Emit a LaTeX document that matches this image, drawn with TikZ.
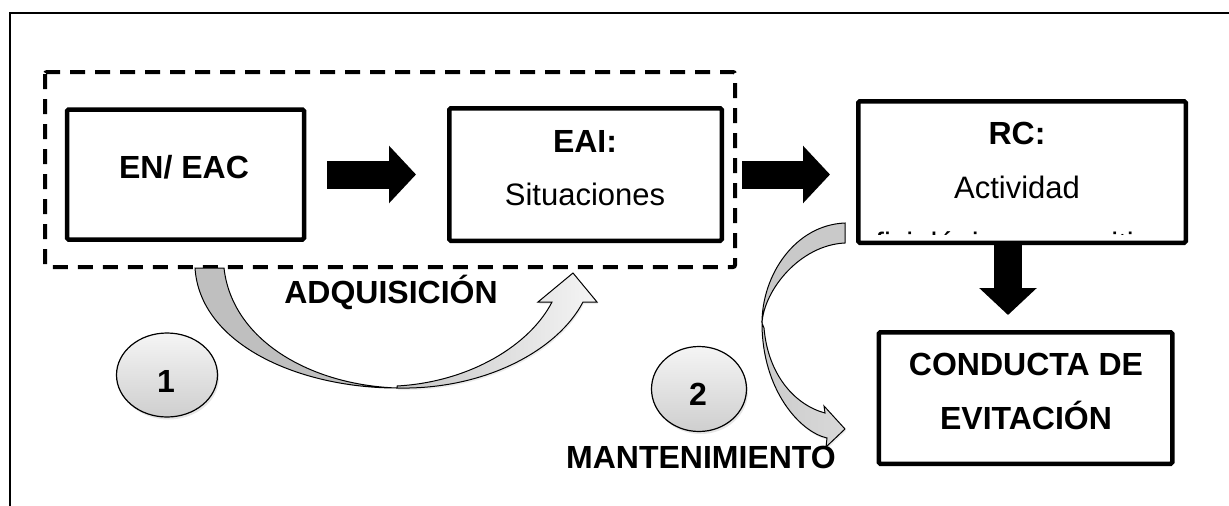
\documentclass[tikz,border=0pt]{standalone}
\usepackage{fontspec}
\setmainfont{Liberation Sans}
\usetikzlibrary{positioning,arrows.meta,shapes.geometric,shadows,calc}

\tikzset{
  box/.style={draw, line width=4.5pt, rounded corners=1.5pt, fill=white},
  dashbox/.style={draw, line width=4pt, dash pattern=on 15pt off 10pt, rounded corners=2pt},
  blockarrow/.style={line width=28pt, -{Triangle[length=27pt,width=56pt]}},
  circ/.style={ellipse, draw, line width=1.2pt, top color=gray!8, bottom color=gray!38,
    drop shadow={opacity=0.2, shadow xshift=1.5pt, shadow yshift=-2.5pt}},
  boldtxt/.style={font=\fontsize{32}{38}\selectfont\bfseries, anchor=base, inner sep=0pt},
  regtxt/.style={font=\fontsize{31}{36}\selectfont, anchor=base, inner sep=0pt},
  bandback/.style={draw, line width=1pt, fill=gray!50},
  bandfront/.style={draw, line width=1pt, left color=gray!45, right color=gray!8,
    drop shadow={opacity=0.15, shadow xshift=1pt, shadow yshift=-2pt}}
}

\begin{document}
\begin{tikzpicture}[x=1pt, y=-1pt]
\useasboundingbox (0,0) rectangle (1229,506);

% Frame
\draw[line width=1.6pt] (10,506) -- (10,13) -- (1229,13);

% Acquisition group
\draw[dashbox] (45,72) rectangle (735,267);

% Boxes
\node[box, minimum width=237pt, minimum height=130pt] (enac) at (185.5,174.5) {};
\node[box, minimum width=272.5pt, minimum height=132.5pt] (eai) at (585.5,174.5) {};
\node[box, minimum width=327.5pt, minimum height=141.5pt] (rc) at (1022,172) {};
\node[box, minimum width=293.5pt, minimum height=131.5pt] (cev) at (1025.5,398) {};

% Box texts
\node[boldtxt] (enacT) at (184,178) {EN/ EAC};
\node[boldtxt] (eaiT) at (585,152) {EAI:};
\node[regtxt] (eaiS) at (585,205) {Situaciones};
\node[boldtxt] (rcT) at (1017,144) {RC:};
\node[regtxt] (rcS) at (1017,198) {Actividad};
\begin{scope}
  \clip (856,99) rectangle (1188,234);
  \node[regtxt] (rcF) at (1021,254) {fisiológica y cognitiva};
\end{scope}
\node[boldtxt] (cevT) at (1026,375) {CONDUCTA DE};
\node[boldtxt] (cevS) at (1026,429) {EVITACIÓN};

% Block arrows
\draw[blockarrow, shorten <=21pt, shorten >=31pt] (enac.east) -- (eai.west);
\draw[blockarrow, shorten <=18pt, shorten >=26pt] (eai.east) -- (eai.east -| rc.west);
\draw[blockarrow, shorten >=15pt] ([xshift=-14pt]rc.south) -- ([xshift=-14pt]rc.south |- cev.north);

% Curved arrow 1 (adquisicion)
\draw[bandback] (195,268) .. controls (200,345) and (300,388) .. (397,388)
  .. controls (310,385) and (232,340) .. (224,268) -- cycle;
\draw[bandfront] (397,388) .. controls (485,390) and (558,350) .. (583,302)
  -- (597,302) -- (573,273) -- (538,302) -- (552,302)
  .. controls (530,345) and (470,382) .. (397,386) -- cycle;

% Curved arrow 2 (mantenimiento)
\draw[bandback, fill=gray!42] (845,223) .. controls (795,225) and (762,275) .. (762,323)
  .. controls (764,290) and (800,245) .. (845,243) -- cycle;
\draw[bandfront, left color=gray!40, right color=gray!30] (762,323)
  .. controls (762,390) and (800,432) .. (827,438)
  -- (826,447) -- (845,429) -- (824,406) -- (825,413)
  .. controls (795,405) and (768,375) .. (764,328) -- cycle;

% Phase circles
\node[circ, minimum width=101pt, minimum height=84pt] (c1) at (167,375) {};
\node[circ, minimum width=95pt, minimum height=85pt] (c2) at (699,389) {};
\node[boldtxt] (n1) at (166,392) {1};
\node[boldtxt] (n2) at (698,405) {2};

% Phase labels
\node[boldtxt] (adq) at (391,303) {ADQUISICIÓN};
\node[boldtxt] (man) at (701,468) {MANTENIMIENTO};
\end{tikzpicture}
\end{document}
